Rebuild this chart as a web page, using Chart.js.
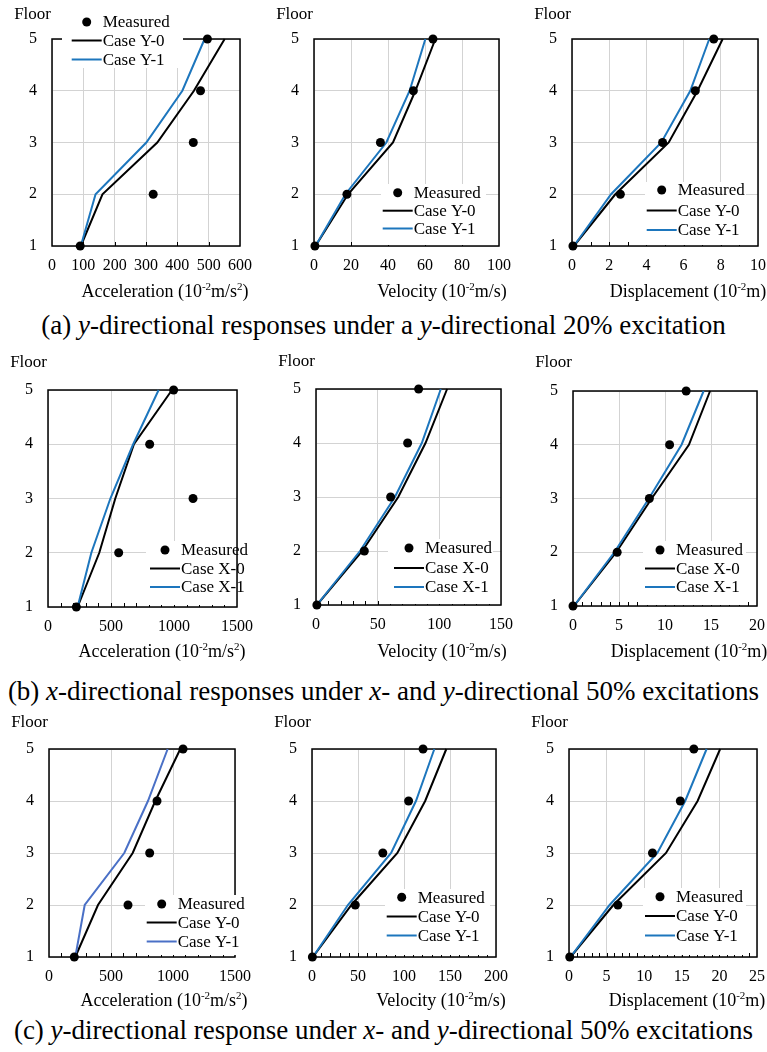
<!DOCTYPE html>
<html>
<head>
<meta charset="utf-8">
<script src="https://cdn.jsdelivr.net/npm/chart.js@4.4.1/dist/chart.umd.min.js"></script>
<style>
  html, body { margin: 0; padding: 0; background: #fff; }
  #fig { position: relative; width: 767px; height: 1052px; overflow: hidden; background: #fff; }
  #fig canvas { position: absolute; }
  .cap { position: absolute; left: 0; width: 767px; text-align: center; white-space: nowrap;
         font-family: "Liberation Serif", "Times New Roman", Tinos, Times, "DejaVu Serif", serif;
         font-size: 27px; line-height: 30px; color: #000; }
</style>
</head>
<body>
<div id="fig">
  <div class="cap" style="top:310px">(a) <i>y</i>-directional responses under a <i>y</i>-directional 20% excitation</div>
  <div class="cap" style="top:676px">(b) <i>x</i>-directional responses under <i>x</i>- and <i>y</i>-directional 50% excitations</div>
  <div class="cap" style="top:1015px">(c) <i>y</i>-directional response under <i>x</i>- and <i>y</i>-directional 50% excitations</div>
</div>
<script>
// Floor levels (shared by every panel)
const floors = [1, 2, 3, 4, 5];

// (a) y-direction, y 20% excitation
const accA_measured = [90, 323, 451, 474, 496];
const accA_case0    = [92, 161, 336, 453, 551];
const accA_case1    = [92, 139, 301, 416, 487];
const velA_measured = [0.5, 17.8, 35.9, 53.7, 64.3];
const velA_case0    = [0.8, 18.4, 42.7, 54.8, 65.6];
const velA_case1    = [0.8, 17.0, 39.1, 51.7, 60.2];
const dspA_measured = [0.05, 2.6, 4.87, 6.63, 7.62];
const dspA_case0    = [0.1, 2.33, 5.2, 6.75, 8.1];
const dspA_case1    = [0.1, 2.1, 4.8, 6.36, 7.38];

// (b) x-direction, x+y 50% excitation
const accB_measured = [225, 561, 1151, 807, 997];
const accB_case0    = [235, 407, 534, 682, 984];
const accB_case1    = [235, 344, 495, 676, 878];
const velB_measured = [0.7, 39.2, 60.5, 74.3, 83.2];
const velB_case0    = [0.7, 37.5, 66.7, 88.8, 106.3];
const velB_case1    = [0.7, 35.7, 64.0, 85.8, 101.2];
const dspB_measured = [0, 4.8, 8.3, 10.5, 12.3];
const dspB_case0    = [0.1, 4.7, 8.55, 12.6, 14.9];
const dspB_case1    = [0.1, 4.5, 8.25, 11.8, 14.2];

// (c) y-direction, x+y 50% excitation
const accC_measured = [204, 637, 812, 871, 1081];
const accC_case0    = [212, 395, 675, 857, 1059];
const accC_case1    = [212, 288, 607, 798, 957];
const velC_measured = [0.4, 47, 77, 105, 120.7];
const velC_case0    = [1, 42.8, 92.8, 123, 146];
const velC_case1    = [1, 39, 86, 113, 133];
const dspC_measured = [0.1, 6.5, 11.1, 14.8, 16.6];
const dspC_case0    = [0.2, 5.9, 12.9, 17.1, 20.1];
const dspC_case1    = [0.2, 5.4, 11.75, 15.45, 18.3];

// Series names
const labelsY = ['Measured', 'Case Y-0', 'Case Y-1'];
const labelsX = ['Measured', 'Case X-0', 'Case X-1'];

// Axis titles: [text, isSuperscript] pieces
const titleAcc = [['Acceleration (10', 0], ['-2', 1], ['m/s', 0], ['2', 1], [')', 0]];
const titleVel = [['Velocity (10', 0], ['-2', 1], ['m/s)', 0]];
const titleDsp = [['Displacement (10', 0], ['-2', 1], ['m)', 0]];

const FONT = '"Liberation Serif", "Times New Roman", Tinos, Times, "DejaVu Serif", serif';
const BLUE = '#1d76bd';
const BLUE_C = '#4a70c6';

const panels = [
  { rect: [51.5, 39, 239.5, 246], xMax: 600, xStep: 100, minor: 100, m: accA_measured, c0: accA_case0, c1: accA_case1, names: labelsY, blue: BLUE,
    title: titleAcc, titleX: 165, titleY: 297, floorY: 15,
    legend: { x0: 71.7, rows: [22, 40.5, 59.5], bg: [62, 11, 183, 68] } },
  { rect: [313.7, 39, 498.5, 246], xMax: 100, xStep: 20, minor: 20, m: velA_measured, c0: velA_case0, c1: velA_case1, names: labelsY, blue: BLUE,
    title: titleVel, titleX: 442, titleY: 297, floorY: 15,
    legend: { x0: 382.7, rows: [192.7, 210.7, 228.5], bg: [381, 184, 486, 245] } },
  { rect: [571.6, 39, 757.5, 246], xMax: 10, xStep: 2, minor: 1, m: dspA_measured, c0: dspA_case0, c1: dspA_case1, names: labelsY, blue: BLUE,
    title: titleDsp, titleX: 688, titleY: 297, floorY: 15,
    legend: { x0: 646.7, rows: [190, 210.5, 230], bg: [645, 182, 746, 245] } },

  { rect: [47.7, 390, 236.7, 606.5], xMax: 1500, xStep: 500, minor: 100, m: accB_measured, c0: accB_case0, c1: accB_case1, names: labelsX, blue: BLUE,
    title: titleAcc, titleX: 162, titleY: 657, floorY: 363,
    legend: { x0: 150, rows: [550, 568.5, 587], bg: [146, 541, 236, 605] } },
  { rect: [315.8, 389, 501.3, 605], xMax: 150, xStep: 50, minor: 10, m: velB_measured, c0: velB_case0, c1: velB_case1, names: labelsX, blue: BLUE,
    title: titleVel, titleX: 442, titleY: 657, floorY: 362,
    legend: { x0: 394, rows: [548, 568, 587], bg: [388, 539, 493, 604] } },
  { rect: [573.3, 390.5, 756.7, 606], xMax: 20, xStep: 5, minor: 1, m: dspB_measured, c0: dspB_case0, c1: dspB_case1, names: labelsX, blue: BLUE,
    title: titleDsp, titleX: 689, titleY: 657, floorY: 363,
    legend: { x0: 645, rows: [550, 568.5, 587], bg: [643, 541, 746, 605] } },

  { rect: [48.7, 749, 234.7, 956.7], xMax: 1500, xStep: 500, minor: 100, m: accC_measured, c0: accC_case0, c1: accC_case1, names: labelsY, blue: BLUE_C,
    title: titleAcc, titleX: 164, titleY: 1006, floorY: 723,
    legend: { x0: 146.7, rows: [904, 922.5, 941.5], bg: [145, 895, 250, 955] } },
  { rect: [312.3, 749, 496.3, 956.7], xMax: 200, xStep: 50, minor: 10, m: velC_measured, c0: velC_case0, c1: velC_case1, names: labelsY, blue: BLUE,
    title: titleVel, titleX: 441, titleY: 1006, floorY: 723,
    legend: { x0: 386.7, rows: [897.3, 916.5, 935.5], bg: [385, 889, 490, 955] } },
  { rect: [569.3, 749, 756.5, 956.7], xMax: 25, xStep: 5, minor: 1, m: dspC_measured, c0: dspC_case0, c1: dspC_case1, names: labelsY, blue: BLUE,
    title: titleDsp, titleX: 687, titleY: 1006, floorY: 723,
    legend: { x0: 645, rows: [896.7, 916, 935.5], bg: [643, 888, 746, 955] } }
];

// Frame, inner minor ticks, "Floor" label, axis title and in-plot legend
const panelDecor = {
  id: 'panelDecor',
  beforeDatasetsDraw(chart, args, o) {
    const { ctx, chartArea: a, scales: { x } } = chart;
    ctx.save();
    ctx.strokeStyle = '#000';
    ctx.lineWidth = 1;
    for (let i = 1; i * o.minor < x.max; i++) {
      const px = Math.round(x.getPixelForValue(i * o.minor)) + 0.5;
      ctx.beginPath();
      ctx.moveTo(px, a.bottom);
      ctx.lineTo(px, a.bottom - 4);
      ctx.stroke();
    }
    ctx.lineWidth = 1.5;
    ctx.strokeRect(a.left, a.top, a.right - a.left, a.bottom - a.top);
    ctx.restore();
  },
  afterDraw(chart, args, o) {
    const { ctx, chartArea: a } = chart;
    const ox = o.offset[0], oy = o.offset[1];
    ctx.save();
    ctx.fillStyle = '#000';

    // "Floor" label above the vertical axis
    ctx.font = '17px ' + FONT;
    ctx.textAlign = 'right';
    ctx.textBaseline = 'middle';
    ctx.fillText('Floor', a.left - 1, o.floorY - oy);

    // Axis title with superscripts
    const base = '18px ' + FONT, sup = '11px ' + FONT;
    let w = 0;
    o.title.forEach(([t, s]) => { ctx.font = s ? sup : base; w += ctx.measureText(t).width; });
    let tx = o.titleX - ox - w / 2;
    const ty = o.titleY - oy;
    ctx.textAlign = 'left';
    ctx.textBaseline = 'alphabetic';
    o.title.forEach(([t, s]) => {
      ctx.font = s ? sup : base;
      ctx.fillText(t, tx, s ? ty - 7 : ty);
      tx += ctx.measureText(t).width;
    });

    // Legend
    const lg = o.legend;
    const ds = chart.data.datasets;
    ctx.fillStyle = '#fff';
    ctx.fillRect(lg.bg[0] - ox, lg.bg[1] - oy, lg.bg[2] - lg.bg[0], lg.bg[3] - lg.bg[1]);
    const x0 = lg.x0 - ox;
    const order = [0, 2, 1];
    ctx.font = '17px ' + FONT;
    ctx.textBaseline = 'middle';
    order.forEach((di, r) => {
      const d = ds[di];
      const y = lg.rows[r] - oy;
      if (d.showLine) {
        ctx.strokeStyle = d.borderColor;
        ctx.lineWidth = d.borderWidth;
        ctx.beginPath();
        ctx.moveTo(x0, y);
        ctx.lineTo(x0 + 30, y);
        ctx.stroke();
      } else {
        ctx.fillStyle = d.pointBackgroundColor;
        ctx.beginPath();
        ctx.arc(x0 + 15, y, d.pointRadius, 0, Math.PI * 2);
        ctx.fill();
      }
      ctx.fillStyle = '#000';
      ctx.fillText(d.label, x0 + 31, y + 1);
    });
    ctx.restore();
  }
};

const toPts = vals => vals.map((v, i) => ({ x: v, y: floors[i] }));
const fig = document.getElementById('fig');

function buildCharts() {
  panels.forEach(p => {
    const [L, T, R, B] = p.rect;
    const padL = 60, padT = 40, padR = 40, padB = 80, axisH = 40;
    const left = Math.round(L), top = Math.round(T);
    const pw = Math.round(R) - left, ph = Math.round(B) - top;
    const cv = document.createElement('canvas');
    cv.width = pw + padL + padR;
    cv.height = ph + padT + padB;
    cv.style.left = (left - padL) + 'px';
    cv.style.top = (top - padT) + 'px';
    fig.appendChild(cv);

    const tickFont = { family: FONT, size: 16 };
    new Chart(cv, {
      type: 'scatter',
      data: {
        datasets: [
          { label: p.names[0], data: toPts(p.m), showLine: false, pointRadius: 4.5, pointHoverRadius: 4.5,
            pointBackgroundColor: '#000', pointBorderWidth: 0, clip: false },
          { label: p.names[2], data: toPts(p.c1), showLine: true, borderColor: p.blue, borderWidth: 2,
            pointRadius: 0, pointHoverRadius: 0, clip: false },
          { label: p.names[1], data: toPts(p.c0), showLine: true, borderColor: '#000', borderWidth: 2,
            pointRadius: 0, pointHoverRadius: 0, clip: false }
        ]
      },
      options: {
        responsive: false,
        animation: false,
        devicePixelRatio: 1,
        events: [],
        layout: { padding: { left: 0, top: padT, right: padR, bottom: padB - axisH }, autoPadding: false },
        plugins: {
          legend: { display: false },
          tooltip: { enabled: false },
          panelDecor: {
            minor: p.minor, title: p.title, titleX: p.titleX, titleY: p.titleY, floorY: p.floorY,
            legend: p.legend, offset: [left - padL, top - padT]
          }
        },
        scales: {
          x: {
            type: 'linear', min: 0, max: p.xMax,
            afterFit(s) { s.height = axisH; },
            ticks: { stepSize: p.xStep, autoSkip: false, maxRotation: 0, padding: 10, color: '#000', font: tickFont,
                     callback: v => String(v) },
            grid: { color: '#d3d3d3', lineWidth: 1, drawTicks: false },
            border: { display: false }
          },
          y: {
            type: 'linear', min: 1, max: 5,
            afterFit(s) { s.width = padL; },
            ticks: { stepSize: 1, padding: 15, color: '#000', font: tickFont, callback: v => String(v) },
            grid: { color: '#d3d3d3', lineWidth: 1, drawTicks: false },
            border: { display: false }
          }
        }
      },
      plugins: [panelDecor]
    });
  });
}

// Wait for the serif face to be available before painting the canvases
if (document.fonts && document.fonts.load) {
  Promise.all([
    document.fonts.load('16px "Liberation Serif"'),
    document.fonts.load('italic 16px "Liberation Serif"')
  ]).then(buildCharts, buildCharts);
} else {
  buildCharts();
}
</script>
</body>
</html>
